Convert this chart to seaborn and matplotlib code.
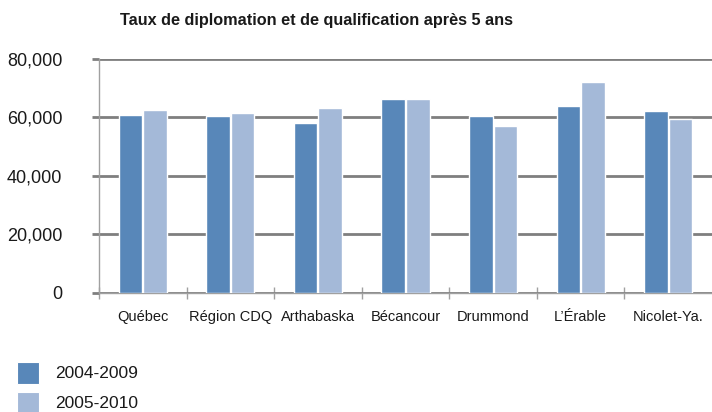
import matplotlib
matplotlib.use("Agg")
import matplotlib.pyplot as plt
import matplotlib.ticker as mticker
import pandas as pd
import seaborn as sns

regions = ["Québec", "Région CDQ", "Arthabaska", "Bécancour", "Drummond", "L’Érable", "Nicolet-Ya."]
periods = ["2004-2009", "2005-2010"]
values_2004_2009 = [60700, 60600, 58100, 66200, 60500, 63900, 62300]
values_2005_2010 = [62600, 61400, 63100, 66400, 57000, 72100, 59400]
palette = ["#5887b9", "#a4b9d8"]

df = pd.DataFrame({
    "region": regions * 2,
    "period": [periods[0]] * len(regions) + [periods[1]] * len(regions),
    "value": values_2004_2009 + values_2005_2010,
})

sns.set_theme(style="white")
plt.rcParams["font.family"] = ["Liberation Sans", "DejaVu Sans"]

fig = plt.figure(figsize=(7.12, 4.12), dpi=100)
ax = fig.add_axes([0.139, 0.289, 0.861, 0.568])

sns.barplot(data=df, x="region", y="value", hue="period", palette=palette,
            saturation=1, width=0.56, gap=0.04, edgecolor="white", linewidth=1,
            order=regions, hue_order=periods, legend=False, ax=ax, zorder=3)

ax.set_xlim(-0.5, len(regions) - 0.5)
ax.set_ylim(0, 80000)
ax.set_yticks([0, 20000, 40000, 60000, 80000])
ax.yaxis.set_major_formatter(mticker.FuncFormatter(lambda v, _: f"{int(v):,}"))
ax.yaxis.grid(True, color="#7f7f7f", linewidth=2, zorder=0)
ax.set_axisbelow(True)
ax.set_xlabel("")
ax.set_ylabel("")

for side in ["top", "right"]:
    ax.spines[side].set_visible(False)
for side in ["left", "bottom"]:
    ax.spines[side].set_color("#a0a0a0")
    ax.spines[side].set_linewidth(1)

ax.tick_params(axis="y", length=5, width=2, color="#7f7f7f", pad=21.5, labelsize=13,
               labelcolor="#1a1a1a", left=True)
ax.tick_params(axis="x", which="major", length=0, pad=12, labelsize=10.5, labelcolor="#1a1a1a")
ax.set_xticks([i - 0.5 for i in range(len(regions))], minor=True)
ax.tick_params(axis="x", which="minor", direction="inout", length=9, width=1,
               color="#a0a0a0", bottom=True)

fig.text(120 / 712, 1 - 20 / 412, "Taux de diplomation et de qualification après 5 ans",
         fontsize=11.7, fontweight="bold", ha="left", va="center", color="#1a1a1a")

for i, (label, color) in enumerate(zip(periods, palette)):
    y = 1 - (373 + i * 30) / 412
    fig.patches.append(plt.Rectangle((17 / 712, y - 11 / 412), 22 / 712, 22 / 412,
                                     transform=fig.transFigure, facecolor=color,
                                     edgecolor="white", linewidth=0.8))
    fig.text(55 / 712, y, label, fontsize=12.5, ha="left", va="center", color="#1a1a1a")

fig.savefig("out.png", dpi=100)
